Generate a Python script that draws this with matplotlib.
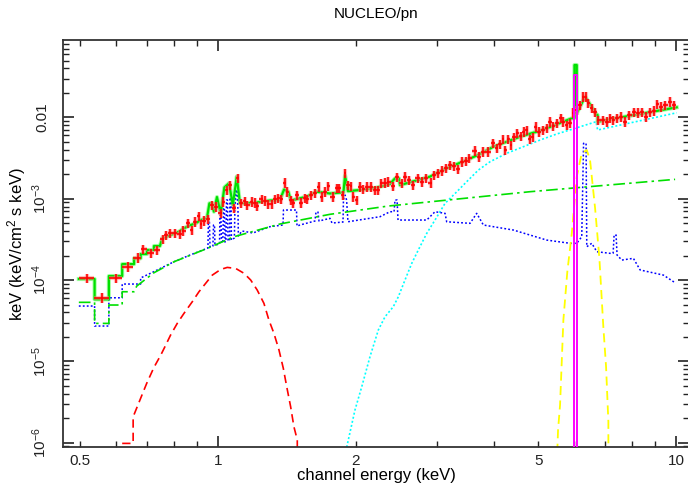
import numpy as np
import matplotlib
matplotlib.use("Agg")
import matplotlib.pyplot as plt
from matplotlib.ticker import FixedLocator, FuncFormatter, NullFormatter

plt.rcParams["font.family"] = ["Liberation Sans", "DejaVu Sans"]
plt.rcParams["mathtext.fontset"] = "custom"
plt.rcParams["mathtext.rm"] = "Liberation Sans"
plt.rcParams["mathtext.it"] = "Liberation Sans:italic"

# data points (keV, keV^2 ph/cm2/s/keV in units of 1e-3)
energy = [0.517, 0.557, 0.598, 0.637, 0.669, 0.687, 0.713, 0.737, 0.757, 0.770,
          0.786, 0.804, 0.826, 0.840, 0.860, 0.876, 0.889, 0.908, 0.918, 0.932,
          0.951, 0.972, 0.989, 1.014, 1.027, 1.045, 1.062, 1.084, 1.104, 1.121,
          1.145, 1.159, 1.185, 1.204, 1.218, 1.246, 1.267, 1.288, 1.310, 1.332,
          1.354, 1.373, 1.401, 1.417, 1.441, 1.456, 1.490, 1.518, 1.549, 1.567,
          1.594, 1.628, 1.664, 1.684, 1.712, 1.741, 1.780, 1.816, 1.840, 1.872,
          1.891, 1.925, 1.951, 1.974, 2.008, 2.042, 2.076, 2.112, 2.155, 2.202,
          2.239, 2.270, 2.316, 2.354, 2.414, 2.463, 2.518, 2.560, 2.616, 2.669,
          2.729, 2.785, 2.845, 2.913, 2.962, 3.027, 3.079, 3.146, 3.211, 3.276,
          3.347, 3.405, 3.474, 3.538, 3.640, 3.715, 3.796, 3.893, 3.979, 4.060,
          4.128, 4.197, 4.233, 4.304, 4.356, 4.429, 4.503, 4.580, 4.657, 4.721,
          4.800, 4.866, 4.947, 5.014, 5.132, 5.220, 5.307, 5.396, 5.505, 5.601,
          5.674, 5.772, 5.869, 5.967, 6.070, 6.171, 6.275, 6.361, 6.435, 6.545,
          6.656, 6.767, 6.937, 7.079, 7.176, 7.296, 7.443, 7.573, 7.737, 7.907,
          8.096, 8.273, 8.416, 8.599, 8.773, 8.954, 9.104, 9.274, 9.462, 9.703, 9.900]
flux = [0.105, 0.0605, 0.105, 0.146, 0.188, 0.239, 0.213, 0.234, 0.319, 0.355,
        0.375, 0.375, 0.365, 0.404, 0.498, 0.412, 0.521, 0.612, 0.489, 0.536,
        0.558, 0.837, 0.797, 0.661, 0.918, 1.28, 1.47, 0.769, 1.78, 0.878,
        0.937, 0.837, 0.918, 0.893, 0.813, 0.984, 0.945, 0.861, 0.861, 0.984,
        1.01, 0.984, 1.57, 1.22, 0.964, 0.878, 1.11, 0.893, 1.01, 0.984,
        1.11, 1.16, 1.41, 1.06, 1.22, 1.43, 1.06, 1.34, 1.34, 1.11,
        2.05, 1.47, 1.43, 1.06, 0.964, 1.41, 1.31, 1.41, 1.41, 1.28,
        1.28, 1.55, 1.57, 1.62, 1.43, 1.83, 1.55, 1.87, 1.70, 1.47,
        1.78, 1.62, 1.78, 1.57, 1.96, 2.05, 2.21, 2.37, 2.60, 2.52,
        2.30, 2.85, 2.91, 3.14, 3.89, 3.29, 3.79, 3.79, 4.80, 4.17,
        4.71, 5.38, 3.97, 5.38, 4.58, 5.69, 6.37, 5.90, 6.67, 7.00,
        5.38, 5.69, 7.69, 6.67, 7.00, 7.34, 8.85, 7.84, 8.46, 9.75,
        8.85, 8.07, 8.46, 11.4, 12.3, 14.2, 18.0, 18.0, 14.9, 12.9,
        11.7, 9.29, 9.29, 8.85, 9.75, 9.29, 9.75, 10.2, 8.85, 10.7,
        11.7, 11.4, 11.7, 10.2, 11.7, 12.1, 14.6, 13.5, 14.2, 15.6, 14.2]
rel_err = 0.13

# total model (green)
model_e = [0.497, 0.538, 0.538, 0.578, 0.578, 0.618, 0.618, 0.656, 0.656, 0.678,
           0.678, 0.700, 0.700, 0.725, 0.725, 0.747, 0.756, 0.788, 0.822, 0.843,
           0.872, 0.894, 0.917, 0.946, 0.958, 0.970, 0.980, 0.995, 1.014, 1.033,
           1.057, 1.078, 1.099, 1.117, 1.192, 1.299, 1.366, 1.394, 1.424, 1.443,
           1.562, 1.643, 1.756, 1.847, 1.879, 1.894, 1.922, 2.042, 2.221, 2.374,
           2.435, 2.484, 2.497, 2.903, 3.157, 3.491, 3.734, 3.992, 4.269, 4.564,
           5.048, 5.443, 5.920, 6.00, 6.00, 6.07, 6.07, 6.329, 6.714, 6.741,
           6.741, 7.545, 8.773, 10.03]
model_f = [1.03e-4, 1.03e-4, 5.79e-5, 5.79e-5, 1.12e-4, 1.12e-4, 1.57e-4, 1.57e-4, 1.85e-4, 1.85e-4,
           2.09e-4, 2.09e-4, 2.34e-4, 2.34e-4, 2.62e-4, 2.62e-4, 3.26e-4, 3.58e-4, 3.93e-4, 4.33e-4,
           4.75e-4, 4.98e-4, 5.47e-4, 5.74e-4, 8.78e-4, 8.78e-4, 6.92e-4, 1.05e-3, 6.61e-4, 1.38e-3,
           1.55e-3, 8.37e-4, 1.87e-3, 8.78e-4, 8.86e-4, 9.51e-4, 9.64e-4, 1.30e-3, 1.22e-3, 9.51e-4,
           1.06e-3, 1.22e-3, 1.16e-3, 1.19e-3, 1.19e-3, 1.93e-3, 1.24e-3, 1.28e-3, 1.37e-3, 1.52e-3,
           1.78e-3, 1.78e-3, 1.47e-3, 1.87e-3, 2.37e-3, 2.99e-3, 3.55e-3, 4.36e-3, 5.02e-3, 5.79e-3,
           6.86e-3, 8.07e-3, 9.75e-3, 9.8e-3, 4.41e-2, 4.41e-2, 1.12e-2, 1.80e-2, 1.07e-2, 1.07e-2,
           8.85e-3, 9.97e-3, 1.16e-2, 1.33e-2]

# power law (green dash-dot)
pl_e = [0.497, 0.538, 0.538, 0.578, 0.578, 0.618, 0.618, 0.656, 0.665, 0.725,
        0.762, 0.802, 0.948, 1.084, 1.366, 1.756, 2.354, 4.800, 9.95]
pl_f = [5.32e-5, 5.32e-5, 2.93e-5, 2.93e-5, 4.93e-5, 4.93e-5, 7.18e-5, 7.18e-5, 8.44e-5, 1.23e-4,
        1.43e-4, 1.68e-4, 2.45e-4, 3.41e-4, 4.89e-4, 6.43e-4, 8.13e-4, 1.22e-3, 1.73e-3]

# reflection with lines (blue dotted)
refl_e = [0.497, 0.538, 0.538, 0.578, 0.578, 0.618, 0.618, 0.678, 0.678, 0.725,
          0.762, 0.802, 0.869, 0.946, 0.951, 0.953, 0.958, 0.961, 0.975, 0.978,
          0.983, 0.985, 1.008, 1.010, 1.015, 1.018, 1.025, 1.028, 1.033, 1.036,
          1.041, 1.044, 1.049, 1.052, 1.060, 1.062, 1.068, 1.070, 1.086, 1.089,
          1.095, 1.100, 1.106, 1.108, 1.128, 1.192, 1.299, 1.387, 1.390, 1.484,
          1.488, 1.510, 1.628, 1.637, 1.653, 1.662, 1.756, 1.774, 1.875, 1.879,
          1.894, 1.909, 1.922, 2.258, 2.374, 2.423, 2.435, 2.460, 2.472, 2.856,
          2.977, 3.131, 3.157, 3.550, 3.671, 3.796, 4.414, 5.220, 5.869, 6.070,
          6.224, 6.281, 6.361, 6.383, 6.545, 6.714, 7.176, 7.287, 7.323, 7.396,
          7.433, 7.612, 8.068, 8.347, 9.383, 9.95]
refl_f = [4.79e-5, 4.79e-5, 2.72e-5, 2.72e-5, 6.05e-5, 6.05e-5, 8.93e-5, 8.93e-5, 1.06e-4, 1.27e-4,
          1.46e-4, 1.68e-4, 2.03e-4, 2.45e-4, 2.48e-4, 5.17e-4, 5.17e-4, 2.55e-4, 2.62e-4, 4.75e-4,
          4.75e-4, 2.69e-4, 2.77e-4, 6.31e-4, 6.31e-4, 2.85e-4, 2.93e-4, 7.69e-4, 7.69e-4, 2.93e-4,
          3.02e-4, 9.64e-4, 9.64e-4, 3.02e-4, 3.10e-4, 1.02e-3, 1.02e-3, 3.10e-4, 3.29e-4, 7.26e-4,
          1.28e-3, 1.28e-3, 7.26e-4, 3.48e-4, 4.01e-4, 3.79e-4, 4.53e-4, 4.75e-4, 7.26e-4, 7.26e-4,
          4.61e-4, 4.75e-4, 5.32e-4, 6.86e-4, 6.86e-4, 5.32e-4, 5.74e-4, 5.02e-4, 5.17e-4, 9.64e-4,
          1.11e-3, 9.64e-4, 5.21e-4, 6.01e-4, 6.92e-4, 6.92e-4, 9.64e-4, 9.64e-4, 5.47e-4, 5.47e-4,
          6.92e-4, 6.61e-4, 5.21e-4, 4.98e-4, 6.61e-4, 4.75e-4, 4.12e-4, 3.10e-4, 2.83e-4, 2.83e-4,
          3.41e-4, 4.80e-3, 4.80e-3, 2.57e-4, 2.83e-4, 2.23e-4, 2.13e-4, 2.14e-4, 3.58e-4, 3.58e-4,
          2.03e-4, 1.76e-4, 1.85e-4, 1.33e-4, 1.15e-4, 9.27e-5]

# absorbed power law (cyan dotted)
abs_e = [1.910, 1.991, 2.060, 2.147, 2.239, 2.316, 2.414, 2.476, 2.560, 2.648,
         2.737, 2.856, 2.977, 3.131, 3.293, 3.491, 3.701, 3.926, 4.269, 4.641,
         5.048, 5.489, 6.019, 6.689, 6.741, 10.03]
abs_f = [8.8e-7, 2.52e-6, 4.87e-6, 1.14e-5, 2.43e-5, 3.54e-5, 4.70e-5, 6.23e-5, 1.00e-4, 1.60e-4,
         2.34e-4, 3.75e-4, 5.47e-4, 8.78e-4, 1.16e-3, 1.62e-3, 2.25e-3, 2.85e-3, 3.62e-3, 4.36e-3,
         5.27e-3, 6.25e-3, 7.34e-3, 8.85e-3, 7.00e-3, 1.14e-2]

# soft component (red dashed)
soft_e = [0.618, 0.653, 0.653, 0.678, 0.699, 0.725, 0.750, 0.769, 0.788, 0.815,
          0.843, 0.879, 0.909, 0.940, 0.972, 1.014, 1.048, 1.093, 1.140, 1.179,
          1.218, 1.260, 1.292, 1.325, 1.359, 1.389, 1.413, 1.441, 1.465, 1.490, 1.490]
soft_f = [9.8e-7, 9.8e-7, 2.08e-6, 3.51e-6, 5.36e-6, 8.44e-6, 1.19e-5, 1.58e-5, 2.10e-5, 2.93e-5,
          3.89e-5, 5.41e-5, 7.18e-5, 9.10e-5, 1.15e-4, 1.35e-4, 1.43e-4, 1.39e-4, 1.21e-4, 1.00e-4,
          7.54e-5, 5.17e-5, 3.22e-5, 2.21e-5, 1.38e-5, 8.20e-6, 4.87e-6, 2.77e-6, 1.57e-6, 1.08e-6, 5e-7]

# broad Fe line (yellow dashed)
feline_e = [5.489, 5.525, 5.581, 5.675, 5.789, 5.920, 6.070, 6.224, 6.383, 6.489,
            6.656, 6.801, 6.937, 7.033, 7.115, 7.115]
feline_f = [5e-7, 1.43e-6, 2.90e-6, 3.22e-5, 1.27e-4, 3.75e-4, 1.87e-3, 3.62e-3, 3.97e-3, 2.99e-3,
            7.62e-4, 1.85e-4, 2.67e-5, 8.59e-6, 1.81e-6, 5e-7]

# narrow line (magenta)
narrow_e = [6.00, 6.00, 6.07, 6.07]
narrow_f = [5e-7, 3.33e-2, 3.33e-2, 5e-7]

energy = np.array(energy)
flux = np.array(flux) * 1e-3
mid = np.sqrt(energy[1:] * energy[:-1])
lo = np.concatenate([[energy[0] ** 2 / mid[0]], mid])
hi = np.concatenate([mid, [energy[-1] ** 2 / mid[-1]]])
xerr = [energy - lo, hi - energy]
yerr = flux * rel_err

fig = plt.figure(figsize=(6.88, 4.86), dpi=100)
ax = fig.add_axes([63 / 688, 39 / 486, 626 / 688, 407 / 486])
ax.set_xscale("log")
ax.set_yscale("log")
ax.set_xlim(0.459, 10.67)
ax.set_ylim(8.85e-7, 0.0895)

ax.plot(soft_e, soft_f, color="#ff0000", lw=1.2, dashes=(5, 3))
ax.plot(abs_e, abs_f, color="#00ffff", lw=1.2, dashes=(1.2, 1.3))
ax.plot(refl_e, refl_f, color="#0000ff", lw=1.1, dashes=(1.2, 1.4))
ax.plot(pl_e, pl_f, color="#00e000", lw=1.2, dashes=(7, 2.5, 1.5, 2.5))
ax.plot(feline_e, feline_f, color="#ffff00", lw=1.3, dashes=(5, 3))
ax.plot(model_e, model_f, color="#00ff00", lw=3, alpha=0.35)
ax.plot(model_e, model_f, color="#00e000", lw=1.6)
# magenta drawn over the total model so only the green tip shows above it
ax.plot(narrow_e, narrow_f, color="#ff00ff", lw=1.4, zorder=3)

ax.errorbar(energy, flux, xerr=xerr, yerr=yerr, fmt="none", ecolor="#ff8080", elinewidth=3.0, alpha=0.5)
ax.errorbar(energy, flux, xerr=xerr, yerr=yerr, fmt="none", ecolor="#ff0000", elinewidth=1.2)

ax.set_title("NUCLEO/pn", fontsize=11, pad=16)
ax.set_xlabel("channel energy (keV)", fontsize=12, labelpad=0)
ax.set_ylabel("keV (keV/cm$^2$ s keV)", fontsize=12, labelpad=2)

ax.xaxis.set_major_locator(FixedLocator([1, 10]))
ax.xaxis.set_minor_locator(FixedLocator([0.5, 0.6, 0.7, 0.8, 0.9, 2, 3, 4, 5, 6, 7, 8, 9]))
ax.xaxis.set_major_formatter(FuncFormatter(lambda v, p: "%g" % v))
ax.xaxis.set_minor_formatter(FuncFormatter(lambda v, p: "%g" % v if v in (0.5, 2, 5) else ""))


def yfmt(v, p):
    if abs(v - 0.01) < 1e-6:
        return "0.01"
    return "10$^{%d}$" % int(round(np.log10(v)))


ax.yaxis.set_major_locator(FixedLocator([1e-6, 1e-5, 1e-4, 1e-3, 1e-2]))
ax.yaxis.set_minor_locator(FixedLocator([m * 10.0 ** k for k in range(-7, -1) for m in range(2, 10)]))
ax.yaxis.set_major_formatter(FuncFormatter(yfmt))
ax.yaxis.set_minor_formatter(NullFormatter())

ax.tick_params(which="both", direction="in", top=True, right=True, colors="#222222", labelsize=11)
ax.tick_params(which="major", length=8, width=1.2)
ax.tick_params(which="minor", length=4, width=1.0)
ax.tick_params(axis="x", which="both", pad=5)
ax.tick_params(axis="y", which="both", pad=10)
for lab in ax.get_yticklabels():
    lab.set_rotation(90)
    lab.set_va("center")
for sp in ax.spines.values():
    sp.set_color("#333333")
    sp.set_linewidth(1.3)

fig.savefig("out.png", dpi=100)
